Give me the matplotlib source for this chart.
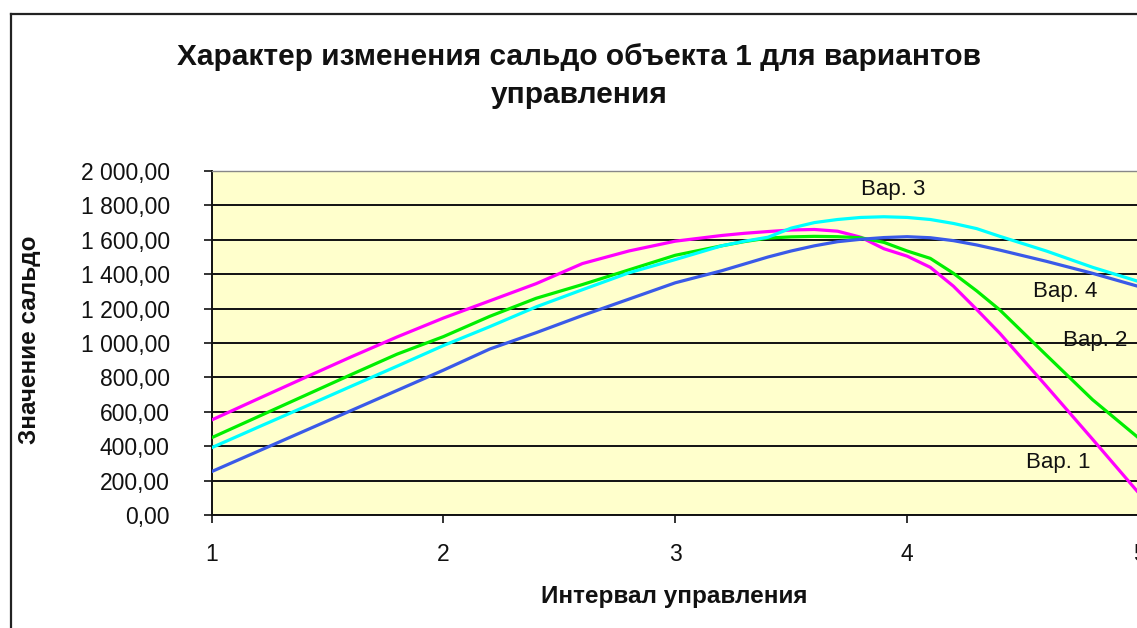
import matplotlib
matplotlib.use("Agg")
import matplotlib.pyplot as plt
from matplotlib.lines import Line2D
from matplotlib.ticker import FuncFormatter

plt.rcParams['font.family'] = ['Liberation Sans', 'DejaVu Sans']

# Data
x_vals = [1.0, 1.2, 1.4, 1.6, 1.8, 2.0, 2.2, 2.4, 2.6, 2.8, 3.0, 3.2,
          3.3, 3.4, 3.5, 3.6, 3.7, 3.8, 3.9, 4.0, 4.1, 4.2, 4.3,
          4.4, 4.6, 4.8, 5.0]
var1 = [552, 675, 797, 918, 1035, 1145, 1245, 1345, 1462, 1535, 1592, 1625,
        1638, 1648, 1657, 1660, 1650, 1615, 1548, 1505, 1440, 1330, 1195,
        1056, 750, 440, 126]
var2 = [449, 571, 693, 815, 935, 1037, 1155, 1260, 1340, 1425, 1510, 1565,
        1590, 1610, 1617, 1620, 1618, 1612, 1585, 1535, 1492, 1405, 1303,
        1192, 930, 670, 446]
var3 = [391, 510, 628, 747, 865, 985, 1095, 1210, 1310, 1408, 1485, 1565,
        1592, 1615, 1668, 1700, 1718, 1730, 1734, 1730, 1718, 1695, 1665,
        1620, 1535, 1440, 1357]
var4 = [252, 370, 488, 606, 724, 842, 965, 1060, 1160, 1255, 1350, 1420,
        1460, 1500, 1535, 1565, 1589, 1603, 1613, 1618, 1612, 1595, 1570,
        1540, 1475, 1405, 1328]

series_names = ["Вар. 1", "Вар. 2", "Вар. 3", "Вар. 4"]
series_colors = ["#FF00FF", "#00EE00", "#00FFFF", "#3A5AE8"]
label_pos = [(4.65, 308), (4.81, 1017), (3.94, 1890), (4.68, 1297)]

x_ticks = [1, 2, 3, 4, 5]
y_ticks = [0, 200, 400, 600, 800, 1000, 1200, 1400, 1600, 1800, 2000]

title_line1 = "Характер изменения сальдо объекта 1 для вариантов"
title_line2 = "управления"
x_label = "Интервал управления"
y_label = "Значение сальдо"

W, H = 1137, 628
fig = plt.figure(figsize=(W / 100, H / 100), dpi=100)
fig.patch.set_facecolor("white")

# Outer chart border (left and top visible)
fig.add_artist(Line2D([11 / W, 11 / W], [0, 1 - 14 / H], transform=fig.transFigure,
                      color="#222222", lw=1.6))
fig.add_artist(Line2D([11 / W, 1.0], [1 - 14 / H, 1 - 14 / H], transform=fig.transFigure,
                      color="#222222", lw=1.6))

left_px, right_px, top_px, bottom_px = 211.5, 1139, 171, 515
ax = fig.add_axes([left_px / W, 1 - bottom_px / H,
                   (right_px - left_px) / W, (bottom_px - top_px) / H])
ax.set_facecolor("#FFFFCC")
ax.set_xlim(1, 5)
ax.set_ylim(0, 2000)
ax.set_axisbelow(True)

for vals, col in zip([var1, var2, var3, var4], series_colors):
    ax.plot(x_vals, vals, color=col, lw=2.3, solid_joinstyle="round",
            solid_capstyle="round", zorder=3)

for name, (lx, ly) in zip(series_names, label_pos):
    ax.text(lx, ly, name, ha="center", va="center", fontsize=16, color="#111111", zorder=4)

ax.set_xticks(x_ticks)
ax.set_xticklabels([str(t) for t in x_ticks])
ax.set_yticks(y_ticks)
ax.yaxis.set_major_formatter(FuncFormatter(
    lambda v, p: f"{v:,.2f}".replace(",", " ").replace(".", ",")))
ax.yaxis.grid(True, color="#111111", lw=1.4)
ax.xaxis.grid(False)

ax.tick_params(axis="y", direction="out", length=6, width=1.2, pad=24,
               labelsize=16.5, colors="#111111")
ax.tick_params(axis="x", direction="out", length=6, width=1.2, pad=14,
               labelsize=16.5, colors="#111111")

for side in ["left", "bottom"]:
    ax.spines[side].set_color("#111111")
    ax.spines[side].set_linewidth(1.4)
ax.spines["top"].set_color("#888888")
ax.spines["top"].set_linewidth(1.0)
ax.spines["right"].set_visible(False)

fig.text(579 / W, 1 - 57 / H, title_line1, ha="center", va="center",
         fontsize=21.5, fontweight="bold", color="#111111")
fig.text(579 / W, 1 - 95 / H, title_line2, ha="center", va="center",
         fontsize=21.5, fontweight="bold", color="#111111")
fig.text(674 / W, 1 - 597 / H, x_label, ha="center", va="center",
         fontsize=17.5, fontweight="bold", color="#111111")
fig.text(30 / W, 1 - 340 / H, y_label, ha="center", va="center", rotation=90,
         fontsize=17.5, fontweight="bold", color="#111111")

fig.savefig("out.png", dpi=100)
